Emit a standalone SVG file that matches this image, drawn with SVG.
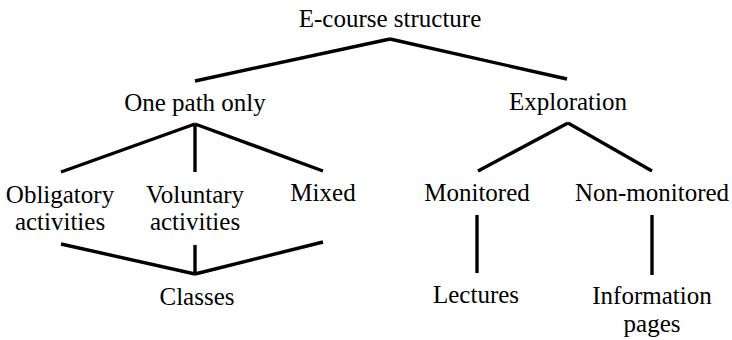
<svg xmlns="http://www.w3.org/2000/svg" width="732" height="340" viewBox="0 0 732 340">
<style>
text{font-family:"Liberation Serif","Times New Roman",serif;font-size:25px;fill:#000;text-anchor:middle}
.c line{stroke:#000;stroke-width:3.4;stroke-linecap:butt}
</style>
<rect width="732" height="340" fill="#fff"/>
<g class="c" id="connectors">
<line x1="390" y1="39" x2="195" y2="81"/>
<line x1="390" y1="39" x2="567" y2="79"/>
<line x1="195" y1="124" x2="61" y2="172"/>
<line x1="195" y1="124" x2="195" y2="172"/>
<line x1="195" y1="124" x2="323" y2="171"/>
<line x1="61" y1="244" x2="195" y2="274"/>
<line x1="195" y1="245" x2="195" y2="274"/>
<line x1="323" y1="242" x2="195" y2="274"/>
<line x1="568" y1="123" x2="478" y2="171"/>
<line x1="568" y1="123" x2="652" y2="171"/>
<line x1="477" y1="215" x2="477" y2="273"/>
<line x1="652" y1="215" x2="652" y2="275"/>
</g>
<g id="root"><text x="390" y="27">E-course structure</text></g>
<g id="one-path"><text x="195" y="111">One path only</text></g>
<g id="exploration"><text x="568" y="110">Exploration</text></g>
<g id="obligatory"><text x="60" y="203">Obligatory</text><text x="60" y="230">activities</text></g>
<g id="voluntary"><text x="195" y="203">Voluntary</text><text x="195" y="230">activities</text></g>
<g id="mixed"><text x="323" y="201">Mixed</text></g>
<g id="classes"><text x="197" y="305">Classes</text></g>
<g id="monitored"><text x="477" y="201">Monitored</text></g>
<g id="non-monitored"><text x="652" y="201">Non-monitored</text></g>
<g id="lectures"><text x="476" y="303">Lectures</text></g>
<g id="information"><text x="652" y="304">Information</text><text x="652" y="332">pages</text></g>
</svg>
